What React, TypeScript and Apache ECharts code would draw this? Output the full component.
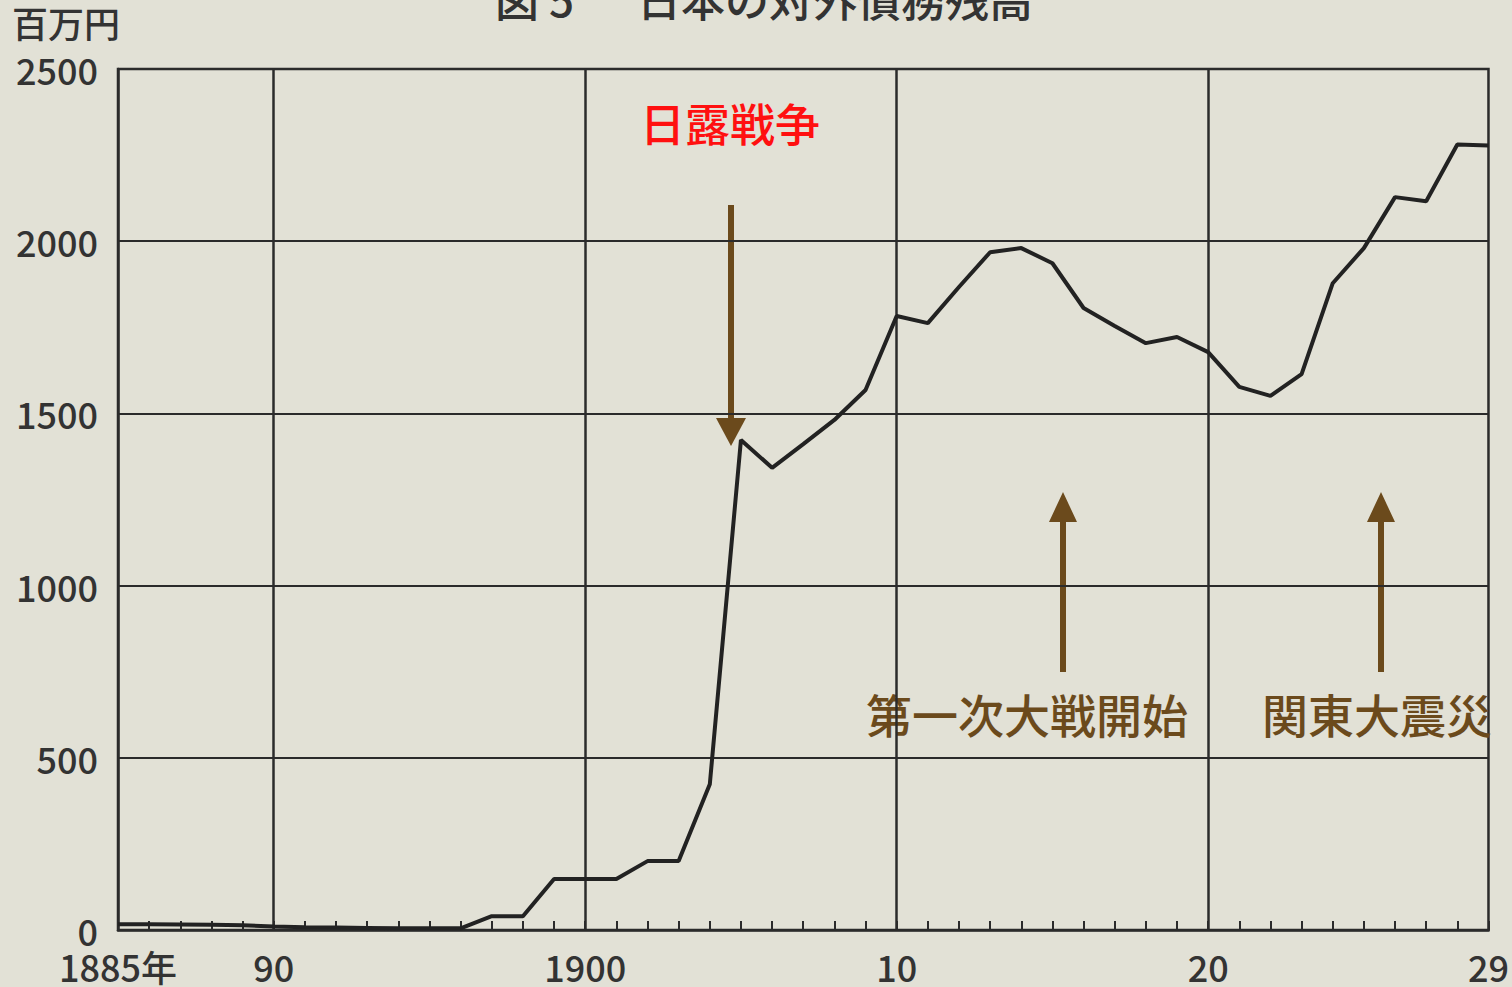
import React, { useEffect, useRef } from "react";
import * as echarts from "echarts";

const years = [
  "1885", "1886", "1887", "1888", "1889", "1890", "1891", "1892", "1893", "1894",
  "1895", "1896", "1897", "1898", "1899", "1900", "1901", "1902", "1903", "1904",
  "1905", "1906", "1907", "1908", "1909", "1910", "1911", "1912", "1913", "1914",
  "1915", "1916", "1917", "1918", "1919", "1920", "1921", "1922", "1923", "1924",
  "1925", "1926", "1927", "1928", "1929",
];

const debt = [
  17, 17, 16, 15, 14, 10, 8, 7, 6, 5,
  5, 5, 40, 40, 148, 148, 148, 200, 200, 423,
  1423, 1342, 1411, 1481, 1568, 1783, 1762, 1867, 1968, 1980,
  1936, 1806, 1754, 1704, 1722, 1678, 1577, 1551, 1614, 1878,
  1980, 2128, 2116, 2281, 2278,
];

const xLabels: Record<string, string> = {
  "1885": "1885年",
  "1890": "90",
  "1900": "1900",
  "1910": "10",
  "1920": "20",
  "1929": "29",
};
const xGridYears = ["1890", "1900", "1910", "1920"];

const titleNum = "図 5";
const titleText = "日本の対外債務残高";
const unitText = "百万円";
const notes = ["日露戦争", "第一次大戦開始", "関東大震災"];

const FONT = "'Noto Sans CJK JP', 'Noto Sans', sans-serif";
const INK = "#2b2b2b";
const BROWN = "#6b4a1c";

export default function App() {
  const ref = useRef<HTMLDivElement>(null);
  useEffect(() => {
    if (!ref.current) return;
    const chart = echarts.init(ref.current, undefined, { renderer: "svg" });
    chart.setOption({
      animation: false,
      backgroundColor: "#e2e1d6",
      textStyle: { fontFamily: FONT },
      grid: { left: 118, right: 17, top: 69, bottom: 57, containLabel: false, show: true, borderColor: INK, borderWidth: 2.5 },
      xAxis: {
        type: "category",
        data: years,
        boundaryGap: false,
        axisLine: { show: true, lineStyle: { color: INK, width: 2.5 } },
        axisTick: { show: true, inside: true, length: 9, interval: 0, lineStyle: { color: INK, width: 2 } },
        axisLabel: {
          interval: 0,
          margin: 18,
          color: "#333",
          fontSize: 36,
          fontWeight: 500,
          fontFamily: FONT,
          formatter: (v: string) => xLabels[v] ?? "",
        },
        splitLine: {
          show: true,
          interval: (_i: number, v: string) => xGridYears.includes(v),
          lineStyle: { color: INK, width: 2.5 },
        },
      },
      yAxis: {
        type: "value",
        min: 0,
        max: 2500,
        interval: 500,
        axisLine: { show: true, lineStyle: { color: INK, width: 2.5 } },
        axisTick: { show: false },
        axisLabel: {
          color: "#333",
          fontSize: 36,
          fontWeight: 500,
          margin: 20,
          fontFamily: FONT,
          formatter: (v: number) => String(v),
        },
        splitLine: { show: true, lineStyle: { color: INK, width: 2.2 } },
      },
      series: [
        {
          type: "line",
          data: debt,
          symbol: "none",
          lineStyle: { color: "#222", width: 4 },
          z: 5,
        },
      ],
      graphic: [
        { type: "text", left: 495, top: -24, style: { text: titleNum, font: `500 44px ${FONT}`, fill: "#333" } },
        { type: "text", left: 637, top: -24, style: { text: titleText, font: `500 44px ${FONT}`, fill: "#333" } },
        { type: "text", left: 12, top: 4, style: { text: unitText, font: `500 36px ${FONT}`, fill: "#333" } },
        { type: "text", left: 640, top: 100, style: { text: notes[0], font: `500 45px ${FONT}`, fill: "#ff1010" } },
        { type: "text", left: 866, top: 690, style: { text: notes[1], font: `500 46px ${FONT}`, fill: BROWN } },
        { type: "text", left: 1262, top: 690, style: { text: notes[2], font: `500 46px ${FONT}`, fill: BROWN } },
        { type: "line", shape: { x1: 731, y1: 205, x2: 731, y2: 422 }, style: { stroke: BROWN, lineWidth: 6 } },
        { type: "polygon", shape: { points: [[716, 418], [746, 418], [731, 446]] }, style: { fill: BROWN } },
        { type: "line", shape: { x1: 1063, y1: 518, x2: 1063, y2: 672 }, style: { stroke: BROWN, lineWidth: 6 } },
        { type: "polygon", shape: { points: [[1049, 522], [1077, 522], [1063, 492]] }, style: { fill: BROWN } },
        { type: "line", shape: { x1: 1381, y1: 518, x2: 1381, y2: 672 }, style: { stroke: BROWN, lineWidth: 6 } },
        { type: "polygon", shape: { points: [[1367, 522], [1395, 522], [1381, 492]] }, style: { fill: BROWN } },
      ],
    });
    return () => chart.dispose();
  }, []);
  return <div ref={ref} style={{ position: "fixed", left: 0, top: 0, width: 1512, height: 987 }} />;
}
